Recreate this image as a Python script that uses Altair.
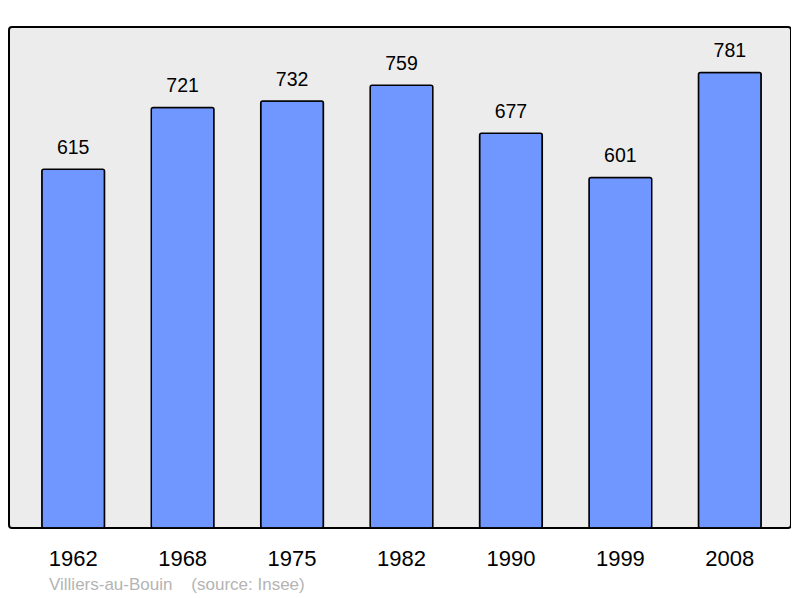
import altair as alt
import pandas as pd

years = ["1962", "1968", "1975", "1982", "1990", "1999", "2008"]
population = [615, 721, 732, 759, 677, 601, 781]
footer = "Villiers-au-Bouin\u00a0\u00a0\u00a0\u00a0(source: Insee)"

df = pd.DataFrame({"year": years, "pop": population})

FONT = "Liberation Sans"

x = alt.X(
    "year:N",
    sort=years,
    title=None,
    scale=alt.Scale(range=[0, 785], paddingInner=0.427, paddingOuter=0.3),
    axis=alt.Axis(
        labelAngle=0,
        labelFont=FONT,
        labelFontSize=22,
        labelColor="#000000",
        labelBaseline="alphabetic",
        labelPadding=37,
        ticks=False,
        tickSize=0,
        domain=False,
        grid=False,
    ),
)
y = alt.Y("pop:Q", title=None, axis=None, scale=alt.Scale(domain=[0, 859], nice=False))

base = alt.Chart(df)

bars = base.mark_bar(
    color="#7096ff", stroke="#000000", strokeWidth=1.5, cornerRadius=2
).encode(x=x, y=y)

labels = base.mark_text(
    font=FONT, fontSize=19.5, color="#000000", baseline="alphabetic", dy=-15
).encode(x=x, y=y, text="pop:Q")

foot = alt.Chart(pd.DataFrame({"t": [footer]})).mark_text(
    font=FONT, fontSize=17, color="#b4b4b4", align="left", baseline="alphabetic"
).encode(x=alt.value(40), y=alt.value(563), text="t:N")

chart = (
    alt.layer(bars, labels, foot)
    .properties(
        width=782,
        height=501,
        autosize=alt.AutoSizeParams(type="none"),
        padding={"left": 1, "top": 19, "right": 0, "bottom": 66},
        background="#ffffff",
    )
    .configure_view(
        fill="#ececec", stroke="#000000", strokeWidth=2, cornerRadius=3
    )
)

chart.save("out.html", embed_options={"renderer": "svg", "actions": False})
